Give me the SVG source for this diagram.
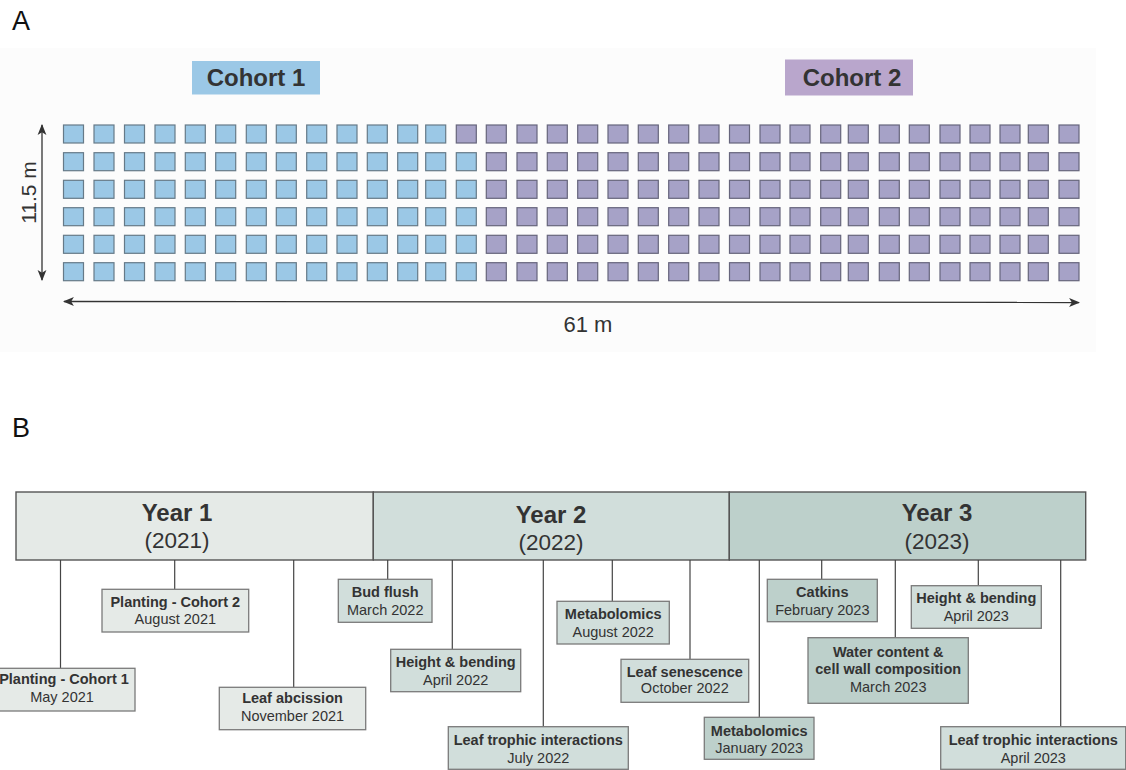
<svg xmlns="http://www.w3.org/2000/svg" xmlns:xlink="http://www.w3.org/1999/xlink" width="1126" height="770" viewBox="0 0 1126 770">
<style>
.t{font-family:"Liberation Sans",Arial,sans-serif;fill:#333}
.b{font-weight:bold}
.sqb{fill:#9bc8e6;stroke:#667a88;stroke-width:1.2}
.sqp{fill:#a6a2c7;stroke:#66657c;stroke-width:1.2}
.hdr{stroke:#555;stroke-width:1.4}
.box{stroke:#7a7a7a;stroke-width:1.3}
.y1{fill:#e5eae7}
.y2{fill:#d1dedb}
.y3{fill:#bdd0cb}
.conn line{stroke:#444;stroke-width:1.2}
.dim{stroke:#333;stroke-width:1.3;fill:none}
.ev{font-size:14.5px;text-anchor:middle}
</style>
<defs>
<marker id="ah" viewBox="0 0 10 10" refX="9" refY="5" markerWidth="11" markerHeight="11" markerUnits="userSpaceOnUse" orient="auto-start-reverse">
<path d="M0,1 L10,5 L0,9 L2.5,5 z" fill="#333"/>
</marker>
<g id="blue13">
<rect class="sqb" x="63.5" y="0" width="20" height="18"/>
<rect class="sqb" x="94" y="0" width="20" height="18"/>
<rect class="sqb" x="124.5" y="0" width="20" height="18"/>
<rect class="sqb" x="155" y="0" width="20" height="18"/>
<rect class="sqb" x="185.3" y="0" width="20" height="18"/>
<rect class="sqb" x="215.7" y="0" width="20" height="18"/>
<rect class="sqb" x="246.3" y="0" width="20" height="18"/>
<rect class="sqb" x="276.3" y="0" width="20" height="18"/>
<rect class="sqb" x="306.7" y="0" width="20" height="18"/>
<rect class="sqb" x="337" y="0" width="20" height="18"/>
<rect class="sqb" x="367.3" y="0" width="20" height="18"/>
<rect class="sqb" x="397.7" y="0" width="20" height="18"/>
<rect class="sqb" x="425.7" y="0" width="20" height="18"/>
</g>
<g id="purple20">
<rect class="sqp" x="486.3" y="0" width="20" height="18"/>
<rect class="sqp" x="517" y="0" width="20" height="18"/>
<rect class="sqp" x="547.3" y="0" width="20" height="18"/>
<rect class="sqp" x="577.7" y="0" width="20" height="18"/>
<rect class="sqp" x="608" y="0" width="20" height="18"/>
<rect class="sqp" x="638.3" y="0" width="20" height="18"/>
<rect class="sqp" x="668.7" y="0" width="20" height="18"/>
<rect class="sqp" x="699" y="0" width="20" height="18"/>
<rect class="sqp" x="729.5" y="0" width="20" height="18"/>
<rect class="sqp" x="760" y="0" width="20" height="18"/>
<rect class="sqp" x="790" y="0" width="20" height="18"/>
<rect class="sqp" x="820.7" y="0" width="20" height="18"/>
<rect class="sqp" x="848.3" y="0" width="20" height="18"/>
<rect class="sqp" x="879.3" y="0" width="20" height="18"/>
<rect class="sqp" x="909.3" y="0" width="20" height="18"/>
<rect class="sqp" x="940" y="0" width="20" height="18"/>
<rect class="sqp" x="970" y="0" width="20" height="18"/>
<rect class="sqp" x="1000" y="0" width="20" height="18"/>
<rect class="sqp" x="1028.3" y="0" width="20" height="18"/>
<rect class="sqp" x="1059" y="0" width="20" height="18"/>
</g>
<rect id="sqB" class="sqb" x="456.3" y="0" width="20" height="18"/>
<rect id="sqP" class="sqp" x="456.3" y="0" width="20" height="18"/>
</defs>

<rect x="0" y="0" width="1126" height="770" fill="#ffffff"/>

<!-- Panel A -->
<g id="panelA">
<text class="t" x="12" y="29.5" font-size="27" style="fill:#111">A</text>
<rect x="0" y="48" width="1096" height="304" fill="#fcfcfc"/>
<g id="cohort1-label">
<rect x="192" y="61" width="128" height="33.5" fill="#9bc8e6"/>
<text class="t b" x="256" y="86" font-size="24" text-anchor="middle">Cohort 1</text>
</g>
<g id="cohort2-label">
<rect x="785" y="59.5" width="128" height="36" fill="#b9a6cc"/>
<text class="t b" x="852" y="86" font-size="24" text-anchor="middle">Cohort 2</text>
</g>
<g id="plots">
<use xlink:href="#blue13" y="125"/><use xlink:href="#sqP" y="125"/><use xlink:href="#purple20" y="125"/>
<use xlink:href="#blue13" y="152.7"/><use xlink:href="#sqB" y="152.7"/><use xlink:href="#purple20" y="152.7"/>
<use xlink:href="#blue13" y="180.3"/><use xlink:href="#sqB" y="180.3"/><use xlink:href="#purple20" y="180.3"/>
<use xlink:href="#blue13" y="207.7"/><use xlink:href="#sqB" y="207.7"/><use xlink:href="#purple20" y="207.7"/>
<use xlink:href="#blue13" y="235.3"/><use xlink:href="#sqB" y="235.3"/><use xlink:href="#purple20" y="235.3"/>
<use xlink:href="#blue13" y="262.7"/><use xlink:href="#sqB" y="262.7"/><use xlink:href="#purple20" y="262.7"/>
</g>
<g id="dimensions">
<line class="dim" x1="42" y1="125" x2="42" y2="280" marker-start="url(#ah)" marker-end="url(#ah)"/>
<text class="t" x="36" y="192.5" font-size="21" text-anchor="middle" transform="rotate(-90 36 192.5)">11.5 m</text>
<line class="dim" x1="64" y1="301.5" x2="1079" y2="302.5" marker-start="url(#ah)" marker-end="url(#ah)"/>
<text class="t" x="588" y="332" font-size="22" text-anchor="middle">61 m</text>
</g>
</g>

<!-- Panel B -->
<text class="t" x="12" y="437" font-size="27" style="fill:#111">B</text>

<g id="year1">
<rect class="y1 hdr" x="16" y="492" width="357.3" height="68"/>
<text class="t b" x="177" y="521" font-size="24" text-anchor="middle">Year 1</text>
<text class="t" x="177" y="547.5" font-size="22.5" text-anchor="middle">(2021)</text>
</g>
<g id="year2">
<rect class="y2 hdr" x="373.3" y="492" width="356" height="68"/>
<text class="t b" x="551" y="523" font-size="24" text-anchor="middle">Year 2</text>
<text class="t" x="551" y="550" font-size="22.5" text-anchor="middle">(2022)</text>
</g>
<g id="year3">
<rect class="y3 hdr" x="729.3" y="492" width="356.4" height="68"/>
<text class="t b" x="937" y="521" font-size="24" text-anchor="middle">Year 3</text>
<text class="t" x="937" y="548.5" font-size="22.5" text-anchor="middle">(2023)</text>
</g>

<g id="connectors" class="conn">
<line x1="60.5" y1="560" x2="60.5" y2="668.3"/>
<line x1="174.7" y1="560" x2="174.7" y2="589.3"/>
<line x1="293.7" y1="560" x2="293.7" y2="687.3"/>
<line x1="387.7" y1="560" x2="387.7" y2="579.3"/>
<line x1="452.3" y1="560" x2="452.3" y2="649.3"/>
<line x1="543.3" y1="560" x2="543.3" y2="726.7"/>
<line x1="612.3" y1="560" x2="612.3" y2="601.3"/>
<line x1="690" y1="560" x2="690" y2="659.3"/>
<line x1="759.3" y1="560" x2="759.3" y2="717.3"/>
<line x1="821.7" y1="560" x2="821.7" y2="579.3"/>
<line x1="895.3" y1="560" x2="895.3" y2="637.7"/>
<line x1="978.3" y1="560" x2="978.3" y2="585.7"/>
<line x1="1060.7" y1="560" x2="1060.7" y2="726.7"/>
</g>

<g id="ev-planting1">
<rect class="box y1" x="-12" y="668.3" width="147" height="42.7"/>
<text class="t b ev" x="64" y="684">Planting - Cohort 1</text>
<text class="t ev" x="62" y="701.7">May 2021</text>
</g>
<g id="ev-planting2">
<rect class="box y1" x="102" y="589.3" width="146.7" height="42.7"/>
<text class="t b ev" x="175.3" y="606.7">Planting - Cohort 2</text>
<text class="t ev" x="175.3" y="624.3">August 2021</text>
</g>
<g id="ev-abcission">
<rect class="box y1" x="219.3" y="687.3" width="146.4" height="42.4"/>
<text class="t b ev" x="292.5" y="702.7">Leaf abcission</text>
<text class="t ev" x="292.5" y="720.7">November 2021</text>
</g>
<g id="ev-budflush">
<rect class="box y2" x="338.3" y="579.3" width="93.7" height="43"/>
<text class="t b ev" x="385.2" y="597.3">Bud flush</text>
<text class="t ev" x="385.2" y="615.3">March 2022</text>
</g>
<g id="ev-height2022">
<rect class="box y2" x="390.7" y="649.3" width="130" height="42.4"/>
<text class="t b ev" x="455.7" y="667.3">Height &amp; bending</text>
<text class="t ev" x="455.7" y="685">April 2022</text>
</g>
<g id="ev-trophic2022">
<rect class="box y2" x="448.3" y="726.7" width="180" height="42.6"/>
<text class="t b ev" x="538.3" y="745">Leaf trophic interactions</text>
<text class="t ev" x="538.3" y="762.7">July 2022</text>
</g>
<g id="ev-metab2022">
<rect class="box y2" x="557" y="601.3" width="112.3" height="42.7"/>
<text class="t b ev" x="613.2" y="619.3">Metabolomics</text>
<text class="t ev" x="613.2" y="636.7">August 2022</text>
</g>
<g id="ev-senescence">
<rect class="box y2" x="621" y="659.3" width="127.7" height="43"/>
<text class="t b ev" x="684.8" y="676.7">Leaf senescence</text>
<text class="t ev" x="684.8" y="693.3">October 2022</text>
</g>
<g id="ev-metab2023">
<rect class="box y3" x="704.3" y="717.3" width="109.7" height="42"/>
<text class="t b ev" x="759.2" y="735.7">Metabolomics</text>
<text class="t ev" x="759.2" y="753.3">January 2023</text>
</g>
<g id="ev-catkins">
<rect class="box y3" x="767.3" y="579.3" width="110" height="42.4"/>
<text class="t b ev" x="822.3" y="597.3">Catkins</text>
<text class="t ev" x="822.3" y="615">February 2023</text>
</g>
<g id="ev-water">
<rect class="box y3" x="808" y="637.7" width="160.3" height="65.6"/>
<text class="t b ev" x="888.2" y="656.7">Water content &amp;</text>
<text class="t b ev" x="888.2" y="674.3">cell wall composition</text>
<text class="t ev" x="888.2" y="691.7">March 2023</text>
</g>
<g id="ev-height2023">
<rect class="box y2" x="911.3" y="585.7" width="130" height="42.6"/>
<text class="t b ev" x="976.3" y="603.3">Height &amp; bending</text>
<text class="t ev" x="976.3" y="621">April 2023</text>
</g>
<g id="ev-trophic2023">
<rect class="box y2" x="940.7" y="726.7" width="185" height="42.6"/>
<text class="t b ev" x="1033.3" y="745">Leaf trophic interactions</text>
<text class="t ev" x="1033.3" y="762.7">April 2023</text>
</g>
</svg>
